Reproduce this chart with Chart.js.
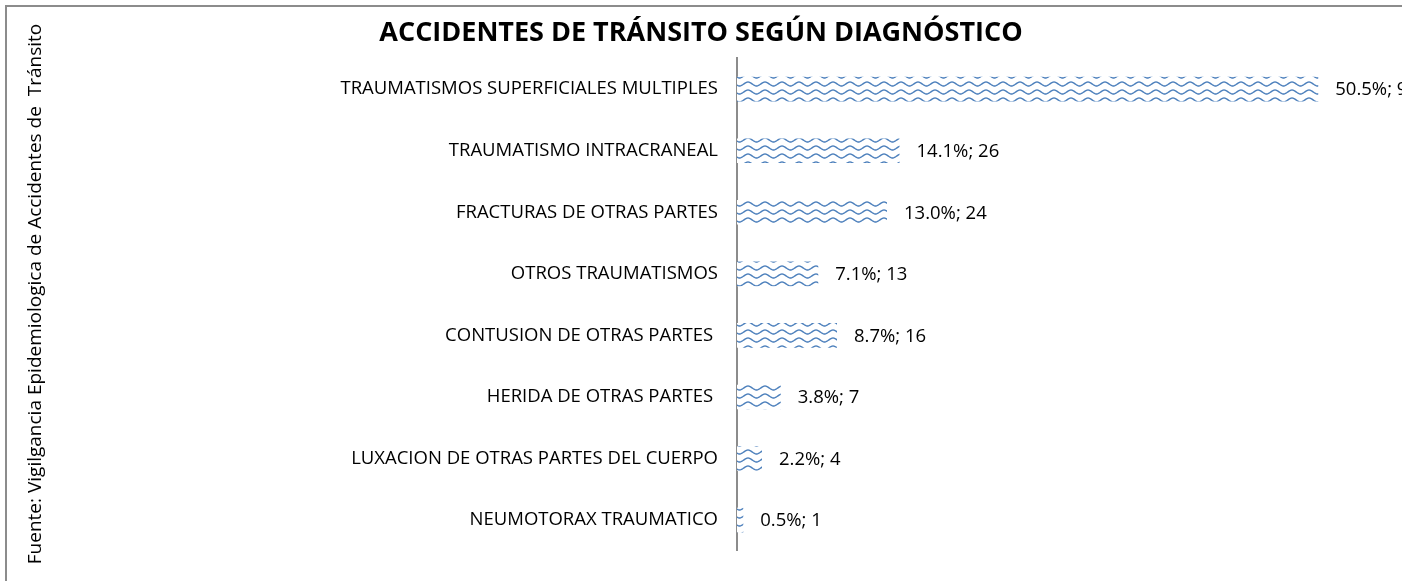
<!DOCTYPE html>
<html>
<head>
<meta charset="utf-8">
<script src="https://cdn.jsdelivr.net/npm/chart.js@4/dist/chart.umd.min.js"></script>
<style>
  html, body { margin: 0; padding: 0; background: #fff; }
  canvas { display: block; }
</style>
</head>
<body>
<canvas id="diagnostico_chart" width="1402" height="581"></canvas>
<script>
const categorias = [
  'TRAUMATISMOS SUPERFICIALES MULTIPLES',
  'TRAUMATISMO INTRACRANEAL',
  'FRACTURAS DE OTRAS PARTES',
  'OTROS TRAUMATISMOS',
  'CONTUSION DE OTRAS PARTES ',
  'HERIDA DE OTRAS PARTES ',
  'LUXACION DE OTRAS PARTES DEL CUERPO',
  'NEUMOTORAX TRAUMATICO'
];
const casos = [93, 26, 24, 13, 16, 7, 4, 1];
const porcentajes = [50.5, 14.1, 13.0, 7.1, 8.7, 3.8, 2.2, 0.5];

const fuente = 'Fuente: Vigilgancia Epidemiologica de Accidentes de  Tránsito';
const fontFamily = '"Open Sans", Lato, sans-serif';

// patron de ondas como en el grafico original
function makeWavePattern() {
  const tile = document.createElement('canvas');
  tile.width = 17;
  tile.height = 8;
  const c = tile.getContext('2d');
  c.fillStyle = '#ffffff';
  c.fillRect(0, 0, 17, 8);
  c.strokeStyle = '#4a7ebb';
  c.lineWidth = 1.4;
  c.beginPath();
  for (let x = 0; x <= 17; x++) {
    const y = 4 - 2 * Math.cos((2 * Math.PI * x) / 17);
    if (x === 0) c.moveTo(x, y); else c.lineTo(x, y);
  }
  c.stroke();
  return c.createPattern(tile, 'repeat');
}

// marco y texto vertical de la fuente
const marcoPlugin = {
  id: 'marco',
  afterDraw(chart) {
    const ctx = chart.ctx;
    ctx.save();
    ctx.strokeStyle = '#8c8c8c';
    ctx.lineWidth = 2;
    ctx.beginPath();
    ctx.moveTo(6, 600);
    ctx.lineTo(6, 6);
    ctx.lineTo(1410, 6);
    ctx.stroke();

    ctx.translate(36, 294);
    ctx.rotate(-Math.PI / 2);
    ctx.fillStyle = '#000';
    ctx.font = '19px ' + fontFamily;
    ctx.textAlign = 'center';
    ctx.textBaseline = 'middle';
    ctx.fillText(fuente, 0, 0);
    ctx.restore();
  }
};

// etiquetas "porcentaje; casos" al final de cada barra
const etiquetasPlugin = {
  id: 'etiquetas',
  afterDatasetsDraw(chart) {
    const ctx = chart.ctx;
    const meta = chart.getDatasetMeta(0);
    ctx.save();
    ctx.fillStyle = '#000';
    ctx.font = '18.5px ' + fontFamily;
    ctx.textAlign = 'left';
    ctx.textBaseline = 'middle';
    meta.data.forEach((bar, i) => {
      const texto = porcentajes[i].toFixed(1) + '%; ' + casos[i];
      ctx.fillText(texto, bar.x + 17, bar.y + 1);
    });
    ctx.restore();
  }
};

const ctxDiag = document.getElementById('diagnostico_chart');

new Chart(ctxDiag, {
  type: 'bar',
  data: {
    labels: categorias,
    datasets: [{
      label: 'Casos',
      data: casos,
      backgroundColor: makeWavePattern(),
      borderWidth: 0,
      barPercentage: 0.8,
      categoryPercentage: 0.5
    }]
  },
  options: {
    indexAxis: 'y',
    responsive: false,
    animation: false,
    layout: {
      padding: { left: 0, right: 0, top: 0, bottom: 25 }
    },
    plugins: {
      legend: { display: false },
      tooltip: { enabled: false },
      title: {
        display: true,
        text: 'ACCIDENTES DE TRÁNSITO SEGÚN DIAGNÓSTICO',
        color: '#000',
        font: { family: fontFamily, size: 27, weight: 'bold' },
        padding: { top: 17, bottom: 9 }
      }
    },
    scales: {
      x: {
        display: false,
        min: 0,
        max: 106.4
      },
      y: {
        grid: { display: false, drawTicks: false },
        border: { display: true, color: '#8c8c8c', width: 2 },
        ticks: {
          color: '#000',
          padding: 19,
          font: { family: fontFamily, size: 18.5 }
        },
        afterFit(scale) {
          scale.width = 737;
        }
      }
    }
  },
  plugins: [marcoPlugin, etiquetasPlugin]
});
</script>
</body>
</html>
